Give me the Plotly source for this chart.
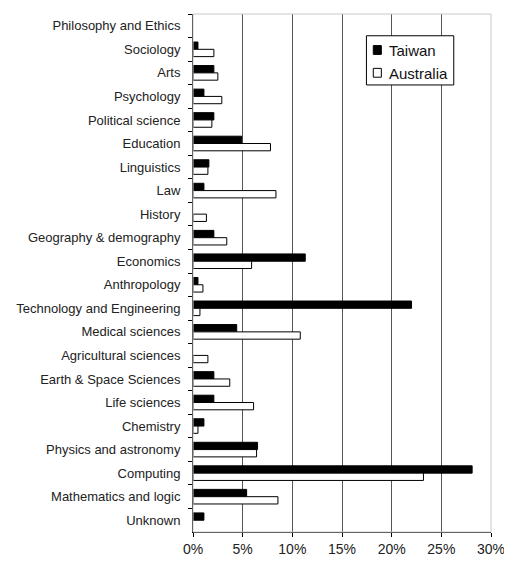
import plotly.graph_objects as go

# categories listed top to bottom as in the chart
fields = ["Philosophy and Ethics", "Sociology", "Arts", "Psychology", "Political science",
          "Education", "Linguistics", "Law", "History", "Geography & demography", "Economics",
          "Anthropology", "Technology and Engineering", "Medical sciences", "Agricultural sciences",
          "Earth & Space Sciences", "Life sciences", "Chemistry", "Physics and astronomy",
          "Computing", "Mathematics and logic", "Unknown"]

taiwan = [0, 0.5, 2.1, 1.1, 2.1, 4.9, 1.6, 1.1, 0, 2.1, 11.3, 0.5, 22.0, 4.4, 0,
          2.1, 2.1, 1.1, 6.5, 28.1, 5.4, 1.1]
australia = [0, 2.1, 2.5, 2.9, 1.9, 7.8, 1.5, 8.35, 1.35, 3.4, 5.9, 1.0, 0.7, 10.8, 1.5,
             3.7, 6.1, 0.5, 6.4, 23.2, 8.55, 0]


def nz(vals):
    # empty bars are left out so no outline shows at 0
    return [v if v > 0 else None for v in vals]


fig = go.Figure()
fig.add_trace(go.Bar(y=fields, x=nz(taiwan), orientation="h", name="Taiwan",
                     marker=dict(color="black", line=dict(color="black", width=1))))
fig.add_trace(go.Bar(y=fields, x=nz(australia), orientation="h", name="Australia",
                     marker=dict(color="white", line=dict(color="black", width=1))))

# light plot-area border (top / right)
fig.add_shape(type="rect", xref="paper", yref="paper", x0=0, x1=1, y0=0, y1=1,
              line=dict(color="#c8c8c8", width=1), layer="above")

# legend drawn by hand (Excel style: compact box)
fig.add_shape(type="rect", xref="paper", yref="paper", x0=0.582, x1=0.875, y0=0.863, y1=0.958,
              line=dict(color="black", width=1), fillcolor="white", layer="above")
fig.add_shape(type="rect", xref="paper", yref="paper", x0=0.605, x1=0.632, y0=0.922, y1=0.939,
              line=dict(color="black", width=1), fillcolor="black", layer="above")
fig.add_shape(type="rect", xref="paper", yref="paper", x0=0.605, x1=0.632, y0=0.878, y1=0.895,
              line=dict(color="black", width=1), fillcolor="white", layer="above")
for name, yy in [("Taiwan", 0.9305), ("Australia", 0.8861)]:
    fig.add_annotation(text=name, xref="paper", yref="paper", x=0.650, y=yy,
                       xanchor="left", yanchor="middle", showarrow=False,
                       font=dict(size=15, color="#111"))

fig.update_layout(
    width=512, height=563,
    margin=dict(l=185, r=29, t=6, b=39, autoexpand=False),
    paper_bgcolor="white", plot_bgcolor="white",
    font=dict(family="Liberation Sans, Arial", color="#222", size=13),
    barmode="group", bargap=0.38, bargroupgap=0,
    showlegend=False,
)
fig.update_xaxes(range=[0, 30], dtick=5, ticksuffix="%", showgrid=True,
                 gridcolor="#555", gridwidth=1, showline=True, linecolor="black",
                 ticks="outside", ticklen=4, tickcolor="black", zeroline=False,
                 tickfont=dict(size=14), automargin=False)
fig.update_yaxes(autorange="reversed", showline=True, linecolor="black",
                 ticks="outside", ticklen=4, tickcolor="black", tickson="boundaries",
                 showgrid=False, ticklabelstandoff=9, tickfont=dict(size=13),
                 automargin=False)

fig.write_html("out.html")
